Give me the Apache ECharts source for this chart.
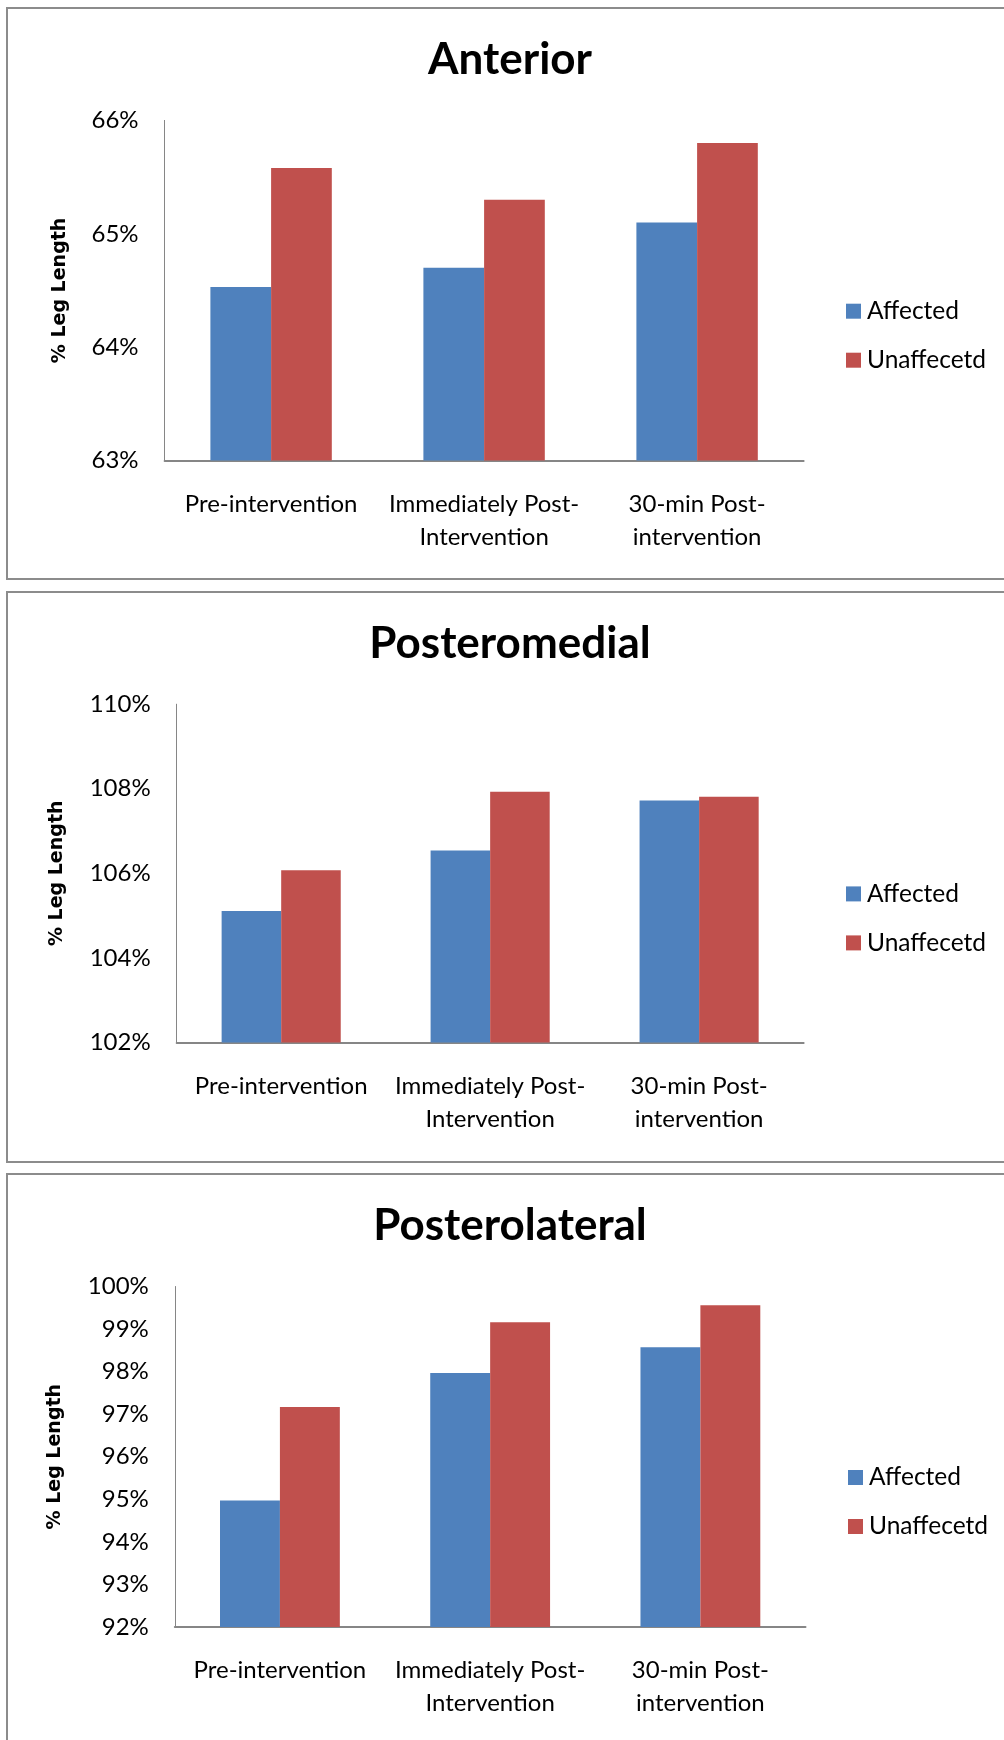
<!DOCTYPE html>
<html><head><meta charset="utf-8">
<script src="https://cdn.jsdelivr.net/npm/echarts@6/dist/echarts.min.js"></script>
<style>html,body{margin:0;padding:0;background:#fff}#c{width:1004px;height:1740px}</style>
</head><body><div id="c"></div>
<script>
// ---- data ----
const categories = ['Pre-intervention', 'Immediately Post-\nIntervention', '30-min Post-\nintervention'];
const seriesNames = ['Affected', 'Unaffecetd'];
const panelTitles = ['Anterior', 'Posteromedial', 'Posterolateral'];
const anteriorAffected = [64.53, 64.70, 65.10];
const anteriorUnaffected = [65.58, 65.30, 65.80];
const posteromedialAffected = [105.11, 106.54, 107.72];
const posteromedialUnaffected = [106.07, 107.93, 107.81];
const posterolateralAffected = [94.97, 97.97, 98.57];
const posterolateralUnaffected = [97.17, 99.16, 99.56];
const yMins = [63, 102, 92];
const yMaxs = [66, 110, 100];
const yIntervals = [1, 2, 1];
const yAxisTitle = '% Leg Length';

const FONT = 'Lato';
const panels = [
  {grid:{left:164.6, top:120.4, width:639, height:340.1}, titleY:60, legendY:310.7, nameGap:95, legendX:846, box:[7,8,1010,579]},
  {grid:{left:176.7, top:704.2, width:626.9, height:338.2}, titleY:644, legendY:893.4, nameGap:110, legendX:846, box:[7,592,1010,1162]},
  {grid:{left:174.8, top:1286.5, width:630.7, height:340.4}, titleY:1226, legendY:1477, nameGap:110, legendX:848, box:[7,1174,1010,1760]}
];
const dataSets = [
  [anteriorAffected, anteriorUnaffected],
  [posteromedialAffected, posteromedialUnaffected],
  [posterolateralAffected, posterolateralUnaffected]
];
const colors = ['#4F81BD', '#C0504D'];

const option = {
  animation:false,
  backgroundColor:'#fff',
  title: panels.map((p,i)=>({text:panelTitles[i], left:510, top:p.titleY-27, textAlign:'center', padding:0,
    textStyle:{fontFamily:FONT, fontWeight:'bold', fontSize:44, lineHeight:54, color:'#000'}})),
  legend: panels.map(p=>({data:seriesNames, orient:'vertical', left:p.legendX, top:p.legendY-12, itemWidth:15, itemHeight:15,
    itemGap:24, icon:'rect', padding:0, selectedMode:false,
    textStyle:{fontFamily:FONT, fontSize:24.5, lineHeight:24, color:'#000', padding:[0,0,0,1]}})),
  grid: panels.map(p=>p.grid),
  xAxis: panels.map((p,i)=>({type:'category', gridIndex:i, data:categories,
    axisLine:{lineStyle:{color:'#868686', width:2}}, axisTick:{show:false},
    axisLabel:{interval:0, margin:27, fontFamily:FONT, fontSize:24, lineHeight:33, color:'#000'}})),
  yAxis: panels.map((p,i)=>({type:'value', gridIndex:i, min:yMins[i], max:yMaxs[i], interval:yIntervals[i],
    name:yAxisTitle, nameLocation:'middle', nameRotate:90, nameGap:p.nameGap,
    nameTextStyle:{fontFamily:'DejaVu Sans', fontWeight:'bold', fontSize:19, color:'#000'},
    axisLine:{show:true, lineStyle:{color:'#868686', width:1}}, axisTick:{show:false}, splitLine:{show:false},
    axisLabel:{margin:26, fontFamily:FONT, fontSize:24, color:'#000', formatter:'{value}%'}})),
  series: [],
  graphic: panels.map(p=>({type:'rect', shape:{x:p.box[0], y:p.box[1], width:p.box[2]-p.box[0], height:p.box[3]-p.box[1]},
    style:{fill:'none', stroke:'#8c8c8c', lineWidth:2}, silent:true}))
};
dataSets.forEach((ds,i)=>{
  ds.forEach((vals,j)=>{
    option.series.push({type:'bar', name:seriesNames[j], xAxisIndex:i, yAxisIndex:i, data:vals,
      barGap:'0%', barCategoryGap:'43%', itemStyle:{color:colors[j]}});
  });
});
const chart = echarts.init(document.getElementById('c'), null, {renderer:'canvas'});
chart.setOption(option);
</script></body></html>
